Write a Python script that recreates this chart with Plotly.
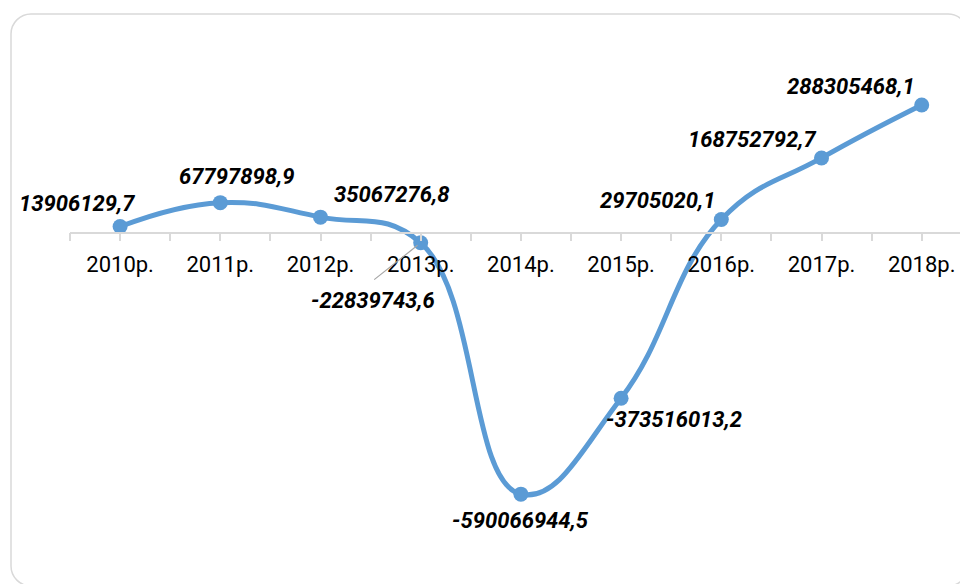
import plotly.graph_objects as go

years = ["2010р.", "2011р.", "2012р.", "2013р.", "2014р.", "2015р.", "2016р.", "2017р.", "2018р."]
values = [13906129.7, 67797898.9, 35067276.8, -22839743.6, -590066944.5,
          -373516013.2, 29705020.1, 168752792.7, 288305468.1]
labels = ["13906129,7", "67797898,9", "35067276,8", "-22839743,6", "-590066944,5",
          "-373516013,2", "29705020,1", "168752792,7", "288305468,1"]

# label offsets in pixels (dx right, dy down) relative to the point
offsets = [(-43, -21), (16, -24), (71, -21), (-48, 60), (0, 28),
           (53, 23), (-64, -17), (-70, -16), (-71, -16)]

W, H = 960, 584
L = 70
YMIN, YMAX = -792.9e6, 525.2e6
xs = list(range(len(years)))

fig = go.Figure()
fig.add_trace(go.Scatter(
    x=xs, y=values, mode="lines+markers",
    line=dict(color="#5B9BD5", width=5, shape="spline", smoothing=1.25),
    marker=dict(color="#5B9BD5", size=15),
    hoverinfo="skip", cliponaxis=False,
))

annots = []
for x, v, t, (dx, dy) in zip(xs, values, labels, offsets):
    annots.append(dict(x=x, y=v, xref="x", yref="y", text="<b><i>" + t + "</i></b>",
                       showarrow=False, xshift=dx, yshift=-dy + 2,
                       font=dict(family="Roboto", size=22, color="#000000")))
# leader line for 2013 label
annots.append(dict(x=xs[3], y=values[3], xref="x", yref="y", text="", showarrow=True,
                   ax=-48, ay=38, arrowhead=0, arrowwidth=1.2, arrowcolor="#a6a6a6",
                   standoff=4))

pw = W - L
def px(x):
    return (x - L) / pw
def py(y):
    return 1 - y / H

lft, top, rgt, bot, r = 11, 14, 968, 586, 20
k = 0.5523 * r
path = (f"M {px(lft)},{py(top + r)} "
        f"C {px(lft)},{py(top + r - k)} {px(lft + r - k)},{py(top)} {px(lft + r)},{py(top)} "
        f"L {px(rgt - r)},{py(top)} "
        f"C {px(rgt - r + k)},{py(top)} {px(rgt)},{py(top + r - k)} {px(rgt)},{py(top + r)} "
        f"L {px(rgt)},{py(bot - r)} "
        f"C {px(rgt)},{py(bot - r + k)} {px(rgt - r + k)},{py(bot)} {px(rgt - r)},{py(bot)} "
        f"L {px(lft + r)},{py(bot)} "
        f"C {px(lft + r - k)},{py(bot)} {px(lft)},{py(bot - r + k)} {px(lft)},{py(bot - r)} Z")

fig.update_layout(
    width=W, height=H,
    margin=dict(l=L, r=0, t=0, b=0),
    paper_bgcolor="white", plot_bgcolor="white",
    showlegend=False,
    annotations=annots,
    shapes=[dict(type="path", xref="paper", yref="paper", path=path,
                 line=dict(color="#d9d9d9", width=1.5), layer="below")],
    xaxis=dict(
        range=[-0.5, -0.5 + pw / 100.2],
        tickmode="array", tickvals=xs, ticktext=years,
        ticks="outside", ticklen=8, tickwidth=1.5, tickcolor="#d9d9d9",
        minor=dict(tickmode="array", tickvals=[i - 0.5 for i in range(len(years) + 1)],
                   ticks="outside", ticklen=8, tickwidth=1.5, tickcolor="#d9d9d9"),
        showline=True, linecolor="#d9d9d9", linewidth=1.5,
        showgrid=False, zeroline=False,
        anchor="free", position=(0 - YMIN) / (YMAX - YMIN),
        tickfont=dict(family="Roboto", size=22, color="#000000"),
        ticklabelstandoff=4,
        fixedrange=True,
    ),
    yaxis=dict(range=[YMIN, YMAX], visible=False, showgrid=False, zeroline=False,
               fixedrange=True),
)

fig.write_html("out.html", config={"displayModeBar": False},
               post_script="document.body.style.margin='0';document.body.style.overflow='hidden';")
